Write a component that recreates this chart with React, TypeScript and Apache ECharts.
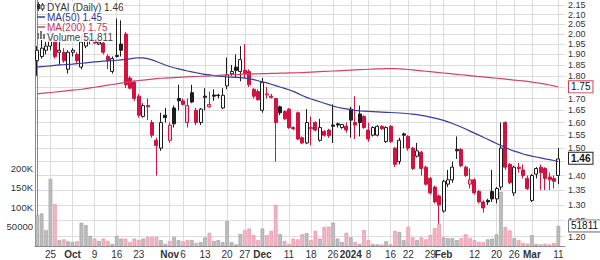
import React, { useEffect, useRef } from "react";
import * as echarts from "echarts";

// Trading days shown (Sep 20 2023 .. Mar 11 2024)
const dates = [
  "2023-09-20","2023-09-21","2023-09-22","2023-09-25","2023-09-26","2023-09-27","2023-09-28","2023-09-29",
  "2023-10-02","2023-10-03","2023-10-04","2023-10-05","2023-10-06","2023-10-09","2023-10-10","2023-10-11","2023-10-12","2023-10-13",
  "2023-10-16","2023-10-17","2023-10-18","2023-10-19","2023-10-20","2023-10-23","2023-10-24","2023-10-25","2023-10-26","2023-10-27",
  "2023-10-30","2023-10-31","2023-11-01","2023-11-02","2023-11-03","2023-11-06","2023-11-07","2023-11-08","2023-11-09","2023-11-10",
  "2023-11-13","2023-11-14","2023-11-15","2023-11-16","2023-11-17","2023-11-20","2023-11-21","2023-11-22","2023-11-24",
  "2023-11-27","2023-11-28","2023-11-29","2023-11-30","2023-12-01","2023-12-04","2023-12-05","2023-12-06","2023-12-07","2023-12-08",
  "2023-12-11","2023-12-12","2023-12-13","2023-12-14","2023-12-15","2023-12-18","2023-12-19","2023-12-20","2023-12-21","2023-12-22",
  "2023-12-26","2023-12-27","2023-12-28","2023-12-29","2024-01-02","2024-01-03","2024-01-04","2024-01-05",
  "2024-01-08","2024-01-09","2024-01-10","2024-01-11","2024-01-12","2024-01-16","2024-01-17","2024-01-18","2024-01-19",
  "2024-01-22","2024-01-23","2024-01-24","2024-01-25","2024-01-26","2024-01-29","2024-01-30","2024-01-31","2024-02-01","2024-02-02",
  "2024-02-05","2024-02-06","2024-02-07","2024-02-08","2024-02-09","2024-02-12","2024-02-13","2024-02-14","2024-02-15","2024-02-16",
  "2024-02-20","2024-02-21","2024-02-22","2024-02-23","2024-02-26","2024-02-27","2024-02-28","2024-02-29","2024-03-01",
  "2024-03-04","2024-03-05","2024-03-06","2024-03-07","2024-03-08","2024-03-11",
];

// [open, close, low, high]
const candles: number[][] = [
  [1.87,1.92,1.80,1.94],[1.89,1.93,1.88,1.97],[1.92,1.94,1.90,1.96],[1.94,2.00,1.92,2.05],[1.97,1.89,1.88,1.99],
  [1.91,1.92,1.85,1.97],[1.91,1.87,1.86,1.93],[1.83,1.91,1.81,1.92],[1.91,1.92,1.89,1.93],[1.90,1.87,1.86,1.91],
  [1.84,1.96,1.83,1.99],[1.94,1.97,1.93,2.00],[1.975,1.972,1.95,1.99],[1.97,1.955,1.95,1.975],[1.95,1.96,1.945,1.965],
  [1.955,1.91,1.90,1.96],[1.89,1.87,1.83,1.90],[1.82,1.88,1.81,1.89],[1.89,1.895,1.885,2.08],[1.95,1.92,1.89,2.07],
  [2.00,1.76,1.745,2.01],[1.79,1.745,1.74,1.80],[1.77,1.70,1.69,1.78],[1.71,1.63,1.62,1.72],[1.625,1.67,1.62,1.68],
  [1.67,1.665,1.61,1.70],[1.60,1.55,1.54,1.61],[1.53,1.51,1.40,1.54],[1.50,1.60,1.49,1.64],[1.63,1.62,1.60,1.66],
  [1.53,1.59,1.52,1.60],[1.66,1.595,1.58,1.67],[1.70,1.69,1.65,1.76],[1.69,1.675,1.67,1.70],[1.60,1.67,1.58,1.70],
  [1.725,1.685,1.68,1.76],[1.65,1.60,1.59,1.66],[1.60,1.655,1.59,1.66],[1.71,1.705,1.65,1.745],[1.665,1.675,1.66,1.73],
  [1.715,1.71,1.69,1.74],[1.715,1.712,1.70,1.72],[1.66,1.714,1.655,1.745],[1.755,1.805,1.74,1.885],[1.81,1.82,1.80,1.85],
  [1.84,1.825,1.79,1.90],[1.82,1.875,1.775,1.94],[1.825,1.81,1.79,1.95],[1.82,1.76,1.75,1.83],[1.74,1.71,1.70,1.745],
  [1.73,1.695,1.69,1.74],[1.65,1.77,1.64,1.79],[1.715,1.72,1.70,1.75],[1.71,1.705,1.70,1.72],[1.70,1.60,1.45,1.70],
  [1.665,1.64,1.63,1.67],[1.645,1.615,1.61,1.65],[1.655,1.58,1.575,1.66],[1.58,1.575,1.57,1.585],[1.64,1.535,1.53,1.645],
  [1.54,1.52,1.515,1.545],[1.52,1.60,1.515,1.655],[1.575,1.58,1.51,1.625],[1.60,1.57,1.565,1.605],[1.53,1.58,1.525,1.615],
  [1.565,1.55,1.545,1.57],[1.57,1.548,1.54,1.575],[1.59,1.585,1.52,1.675],[1.595,1.59,1.58,1.60],[1.58,1.592,1.575,1.595],
  [1.585,1.57,1.56,1.60],[1.655,1.61,1.54,1.665],[1.60,1.59,1.535,1.71],[1.635,1.60,1.545,1.67],[1.625,1.58,1.575,1.63],
  [1.57,1.535,1.525,1.60],[1.55,1.58,1.545,1.585],[1.55,1.585,1.545,1.59],[1.585,1.575,1.57,1.59],[1.525,1.58,1.52,1.585],
  [1.585,1.525,1.52,1.59],[1.50,1.44,1.43,1.505],[1.45,1.53,1.44,1.54],[1.555,1.55,1.50,1.56],[1.545,1.50,1.49,1.55],
  [1.50,1.425,1.42,1.505],[1.47,1.49,1.465,1.52],[1.485,1.425,1.40,1.49],[1.43,1.37,1.365,1.435],[1.39,1.34,1.335,1.395],
  [1.36,1.31,1.305,1.365],[1.33,1.30,1.24,1.335],[1.28,1.38,1.275,1.385],[1.37,1.385,1.36,1.42],[1.385,1.43,1.375,1.45],
  [1.495,1.49,1.46,1.545],[1.495,1.435,1.43,1.50],[1.43,1.40,1.395,1.435],[1.37,1.385,1.355,1.425],[1.385,1.34,1.335,1.39],
  [1.345,1.31,1.305,1.35],[1.31,1.29,1.275,1.315],[1.315,1.31,1.30,1.32],[1.345,1.32,1.31,1.42],[1.32,1.355,1.305,1.36],
  [1.36,1.50,1.35,1.60],[1.60,1.43,1.42,1.605],[1.44,1.375,1.37,1.445],[1.34,1.43,1.33,1.435],[1.43,1.425,1.41,1.445],
  [1.42,1.40,1.39,1.44],[1.39,1.355,1.35,1.40],[1.315,1.40,1.31,1.405],[1.405,1.425,1.39,1.43],[1.43,1.41,1.35,1.44],
  [1.425,1.39,1.35,1.43],[1.395,1.385,1.35,1.41],[1.39,1.38,1.355,1.40],[1.40,1.46,1.37,1.50],
];

const volumes = [
  80000,84000,41000,173000,108000,15000,17000,12000,10000,12000,
  60000,54000,26000,19000,13000,19000,13000,5000,26000,19000,
  19000,10000,19000,15000,19000,23000,23000,23000,15000,5000,
  13000,23000,15000,12000,15000,15000,8000,10000,22000,34000,
  13000,15000,10000,64000,10000,4000,31000,41000,45000,28000,
  15000,45000,28000,39000,106000,31000,13000,5000,19000,17000,
  30000,33000,15000,39000,19000,49000,50000,60000,19000,10000,
  34000,22000,10000,5000,41000,15000,5000,4000,4000,12000,
  4000,39000,36000,15000,49000,22000,15000,22000,17000,28000,
  46000,57000,22000,20000,20000,15000,20000,30000,20000,15000,
  10000,10000,17000,19000,30000,140000,49000,40000,20000,15000,
  8000,6000,28000,5000,4000,6000,4000,8000,51811,
];

const ma50 = [
  1.840,1.842,1.844,1.846,1.848,1.850,1.851,1.853,1.854,1.856,
  1.858,1.860,1.862,1.864,1.866,1.868,1.869,1.870,1.872,1.874,
  1.876,1.879,1.882,1.884,1.883,1.880,1.874,1.866,1.858,1.850,
  1.843,1.837,1.832,1.827,1.822,1.818,1.814,1.810,1.807,1.804,
  1.801,1.799,1.797,1.795,1.794,1.793,1.792,1.790,1.787,1.783,
  1.778,1.773,1.768,1.762,1.756,1.750,1.744,1.738,1.731,1.722,
  1.713,1.705,1.698,1.692,1.686,1.680,1.674,1.668,1.663,1.659,
  1.656,1.653,1.650,1.648,1.647,1.646,1.645,1.644,1.643,1.642,
  1.641,1.640,1.639,1.638,1.636,1.634,1.632,1.629,1.626,1.622,
  1.618,1.614,1.609,1.603,1.596,1.589,1.582,1.574,1.566,1.558,
  1.550,1.542,1.534,1.526,1.518,1.510,1.502,1.495,1.489,1.484,
  1.478,1.474,1.470,1.467,1.464,1.460,1.457,1.454,1.450,
];

const ma200 = [
  1.720,1.722,1.724,1.726,1.728,1.730,1.732,1.734,1.736,1.738,
  1.740,1.743,1.746,1.749,1.752,1.755,1.758,1.761,1.764,1.767,
  1.770,1.773,1.776,1.779,1.781,1.783,1.785,1.787,1.789,1.790,
  1.791,1.792,1.793,1.794,1.795,1.796,1.797,1.798,1.799,1.800,
  1.801,1.802,1.803,1.804,1.805,1.806,1.807,1.808,1.808,1.809,
  1.809,1.810,1.810,1.811,1.811,1.812,1.812,1.813,1.813,1.814,
  1.815,1.816,1.817,1.818,1.819,1.820,1.821,1.822,1.823,1.824,
  1.825,1.826,1.827,1.828,1.829,1.830,1.831,1.832,1.832,1.833,
  1.833,1.833,1.832,1.831,1.829,1.827,1.825,1.823,1.821,1.819,
  1.817,1.815,1.813,1.811,1.809,1.807,1.805,1.803,1.801,1.799,
  1.797,1.795,1.793,1.791,1.789,1.787,1.785,1.783,1.781,1.779,
  1.777,1.775,1.772,1.769,1.766,1.763,1.759,1.755,1.750,
];

const priceTicks = [1.20,1.25,1.30,1.35,1.40,1.45,1.50,1.55,1.60,1.65,1.70,1.75,1.80,1.85,1.90,1.95,2.00,2.05,2.10,2.15];
// tick labels hidden under the value tags on the right
const coveredPriceTicks = [1.45, 1.75];
const volumeTicks = [50000, 100000, 150000, 200000];
const tickDates = ["2023-09-25","2023-10-02","2023-10-09","2023-10-16","2023-10-23","2023-11-01","2023-11-06","2023-11-13","2023-11-20","2023-11-27","2023-12-01","2023-12-11","2023-12-18","2023-12-26","2024-01-02","2024-01-08","2024-01-16","2024-01-22","2024-01-29","2024-02-01","2024-02-12","2024-02-20","2024-02-26","2024-03-01","2024-03-11"];
const tickLabels = ["25","Oct","9","16","23","Nov","6","13","20","27","Dec","11","18","26","2024","8","16","22","29","Feb","12","20","26","Mar","11"];
const boldLabels = ["Oct","Nov","Dec","2024","Feb","Mar"];

const lastClose = 1.46;
const lastMa50 = 1.45;
const lastMa200 = 1.75;
const lastVolume = 51811;

const RED = "#d3123f";
const BLACK = "#1c1c1c";
const FONT = "'Liberation Sans', Arial, sans-serif";

export default function App() {
  const ref = useRef<HTMLDivElement>(null);
  useEffect(() => {
    document.body.style.margin = "0";
    if (!ref.current) return;
    const chart = echarts.init(ref.current, undefined, { renderer: "svg" });
    const N = dates.length + 1; // one empty slot at the right
    const cats = [...dates, ""];
    const ln = Math.log;

    const candleData = candles.map((c, i) => {
      const [o, cl, l, h] = c;
      const prev = i > 0 ? candles[i - 1][1] : o;
      const down = cl < prev;
      const hollow = cl > o;
      const edge = down ? RED : BLACK;
      const fill = hollow ? (down ? "#f7c6d2" : "#ffffff") : edge;
      return {
        value: [ln(o), ln(cl), ln(l), ln(h)],
        itemStyle: { color: fill, color0: fill, borderColor: edge, borderColor0: edge, borderWidth: 1 },
      };
    });
    const volData = volumes.map((v, i) => {
      const prev = i > 0 ? candles[i - 1][1] : candles[i][0];
      const down = candles[i][1] < prev;
      return {
        value: v,
        itemStyle: down
          ? { color: "#f3b5c3", borderColor: "#e28aa0", borderWidth: 0.6 }
          : { color: "#bdbdbd", borderColor: "#9b9b9b", borderWidth: 0.6 },
      };
    });
    const tickIdx = tickDates.map((d) => dates.indexOf(d));
    const labelOf = (v: number) => {
      const k = tickIdx.indexOf(Math.round(v));
      if (k < 0) return "";
      const t = tickLabels[k];
      return boldLabels.includes(t) ? `{b|${t}}` : t;
    };

    const tagLine = (value: number, text: string, border: string, bold = false) => ({
      silent: true,
      z: bold ? 12 : 11,
      symbol: ["none", "none"],
      lineStyle: { color: "transparent", width: 1, type: "solid" },
      data: [{ yAxis: value }],
      label: {
        show: true,
        position: "end",
        formatter: text,
        color: "#111",
        fontSize: 10,
        fontWeight: bold ? "bold" : "normal",
        fontFamily: FONT,
        backgroundColor: "#ffffff",
        borderColor: border,
        borderWidth: 1,
        padding: [1, 2, 0, 2],
        distance: 4,
      },
    });

    const legendLines = [
      { text: `DYAI (Daily) ${lastClose.toFixed(2)}`, fill: "#333" },
      { text: `MA(50) ${lastMa50.toFixed(2)}`, fill: "#33338f" },
      { text: `MA(200) ${lastMa200.toFixed(2)}`, fill: "#cc2f55" },
      { text: `Volume ${lastVolume.toLocaleString("en-US")}`, fill: "#444" },
    ];

    chart.setOption({
      animation: false,
      textStyle: { fontFamily: FONT },
      grid: { left: 35, right: 35, top: 0, bottom: 14, containLabel: false },
      xAxis: [
        {
          type: "category",
          data: cats,
          boundaryGap: true,
          axisLine: { show: true, lineStyle: { color: "#8a8a8a" } },
          axisTick: { show: false },
          axisLabel: { show: false },
          splitLine: { show: false },
        },
        {
          type: "value",
          min: -0.5,
          max: N - 0.5,
          position: "bottom",
          axisLine: { show: false },
          axisTick: { show: false, customValues: tickIdx },
          axisLabel: {
            customValues: tickIdx,
            formatter: labelOf,
            fontSize: 10,
            color: "#333",
            margin: 3,
            fontFamily: FONT,
            rich: { b: { fontWeight: "bold", fontSize: 10, color: "#333", fontFamily: FONT } },
          },
          splitLine: { show: true, lineStyle: { color: "#dcdcdc", width: 1 } },
        },
      ],
      yAxis: [
        {
          type: "value",
          position: "right",
          min: 0.1589,
          max: 0.7789,
          axisLine: { show: true, lineStyle: { color: "#8a8a8a" } },
          axisTick: { show: false, customValues: priceTicks.map(ln) },
          axisLabel: {
            customValues: priceTicks.filter((t) => !coveredPriceTicks.includes(t)).map(ln),
            formatter: (v: number) => Math.exp(v).toFixed(2),
            fontSize: 9,
            color: "#333",
            margin: 3,
            fontFamily: FONT,
          },
          splitLine: { show: true, lineStyle: { color: "#dcdcdc", width: 1 } },
        },
        {
          type: "value",
          position: "left",
          min: 0,
          max: 634000,
          axisLine: { show: true, lineStyle: { color: "#8a8a8a" } },
          axisTick: { show: false },
          axisLabel: {
            customValues: volumeTicks,
            formatter: (v: number) => (v >= 100000 ? `${v / 1000}K` : `${v}`),
            fontSize: 9.5,
            color: "#333",
            margin: 2,
            fontFamily: FONT,
          },
          splitLine: { show: false },
        },
      ],
      series: [
        {
          name: "Volume",
          type: "bar",
          xAxisIndex: 0,
          yAxisIndex: 1,
          data: volData,
          barWidth: "82%",
          silent: true,
          markLine: tagLine(lastVolume, String(lastVolume), "#777"),
        },
        {
          name: "DYAI",
          type: "candlestick",
          xAxisIndex: 0,
          yAxisIndex: 0,
          data: candleData,
          barWidth: "80%",
          silent: true,
          markLine: tagLine(ln(lastClose), lastClose.toFixed(2), "#222", true),
        },
        {
          name: "MA(50)",
          type: "line",
          xAxisIndex: 0,
          yAxisIndex: 0,
          data: ma50.map(ln),
          showSymbol: false,
          symbol: "none",
          lineStyle: { color: "#3b3b9e", width: 1.2 },
          silent: true,
        },
        {
          name: "MA(200)",
          type: "line",
          xAxisIndex: 0,
          yAxisIndex: 0,
          data: ma200.map(ln),
          showSymbol: false,
          symbol: "none",
          lineStyle: { color: "#d44462", width: 1.2 },
          silent: true,
          markLine: tagLine(ln(lastMa200), lastMa200.toFixed(2), "#d44462"),
        },
      ],
      graphic: [
        // candle icon
        { type: "line", z: 20, shape: { x1: 38.5, y1: 2, x2: 38.5, y2: 11 }, style: { stroke: "#333", lineWidth: 1 } },
        { type: "rect", z: 20, shape: { x: 37, y: 4, width: 3, height: 5 }, style: { fill: "#333" } },
        { type: "line", z: 20, shape: { x1: 42.5, y1: 3, x2: 42.5, y2: 11 }, style: { stroke: "#333", lineWidth: 1 } },
        { type: "rect", z: 20, shape: { x: 41, y: 5, width: 3, height: 4 }, style: { fill: "#fff", stroke: "#333", lineWidth: 1 } },
        { type: "line", z: 20, shape: { x1: 37, y1: 17, x2: 45, y2: 17 }, style: { stroke: "#3b3b9e", lineWidth: 1.5 } },
        { type: "line", z: 20, shape: { x1: 37, y1: 27, x2: 45, y2: 27 }, style: { stroke: "#d44462", lineWidth: 1.5 } },
        { type: "rect", z: 20, shape: { x: 37, y: 33, width: 2, height: 6 }, style: { fill: "#777" } },
        { type: "rect", z: 20, shape: { x: 40, y: 31, width: 2, height: 8 }, style: { fill: "#777" } },
        { type: "rect", z: 20, shape: { x: 43, y: 34, width: 2, height: 5 }, style: { fill: "#777" } },
        ...legendLines.map((l, k) => ({
          type: "text",
          z: 20,
          left: 47,
          top: 2 + k * 10,
          style: {
            text: l.text,
            fill: l.fill,
            fontSize: 10,
            lineHeight: 10,
            fontFamily: FONT,
            backgroundColor: "rgba(255,255,255,0.85)",
          },
        })),
      ],
    });
    return () => chart.dispose();
  }, []);
  return <div ref={ref} style={{ width: 600, height: 260 }} />;
}
